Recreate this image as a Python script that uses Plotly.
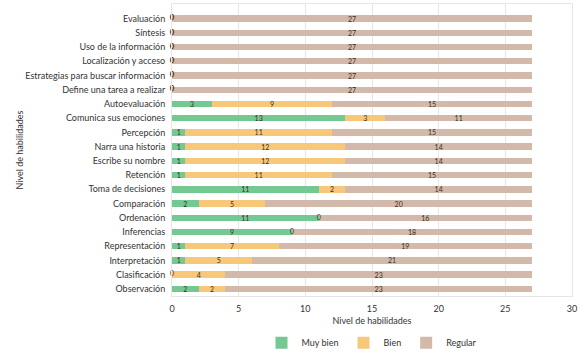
import plotly.graph_objects as go

categories = ["Evaluación", "Síntesis", "Uso de la información", "Localización y acceso",
              "Estrategias para buscar información", "Define una tarea a realizar",
              "Autoevaluación", "Comunica sus emociones", "Percepción", "Narra una historia",
              "Escribe su nombre", "Retención", "Toma de decisiones", "Comparación",
              "Ordenación", "Inferencias", "Representación", "Interpretación",
              "Clasificación", "Observación"]
muy_bien = [0, 0, 0, 0, 0, 0, 3, 13, 1, 1, 1, 1, 11, 2, 11, 9, 1, 1, 0, 2]
bien =     [0, 0, 0, 0, 0, 0, 9, 3, 11, 12, 12, 11, 2, 5, 0, 0, 7, 5, 4, 2]
regular =  [27, 27, 27, 27, 27, 27, 15, 11, 15, 14, 14, 15, 14, 20, 16, 18, 19, 21, 23, 23]
series_names = ["Muy bien", "Bien", "Regular"]
colors = ["#74c993", "#f8c87a", "#d3b9a9"]
x_ticks = [0, 5, 10, 15, 20, 25, 30]

FONT = "Lato"
fig = go.Figure()
series = [muy_bien, bien, regular]
for name, vals, col in zip(series_names, series, colors):
    fig.add_trace(go.Bar(
        y=categories, x=vals, name=name, orientation="h",
        marker=dict(color=col, line=dict(width=0)),
        text=[str(v) if v != 0 else "" for v in vals],
        textposition="inside", insidetextanchor="middle",
        textangle=0, constraintext="none",
        textfont=dict(family=FONT, size=7, color="#3a2e1e"),
        hoverinfo="x+y+name",
    ))

# zero labels at the base of each zero-width segment
zx, zy = [], []
for i, cat in enumerate(categories):
    base = 0
    for vals in series:
        if vals[i] == 0:
            zx.append(base)
            zy.append(cat)
        base += vals[i]
fig.add_trace(go.Scatter(x=zx, y=zy, mode="text", text=["0"] * len(zx),
                         textposition="middle center",
                         textfont=dict(family=FONT, size=7, color="#3a2e1e"),
                         showlegend=False, hoverinfo="skip", cliponaxis=False))

fig.update_layout(
    barmode="stack", bargap=0.55,
    width=586, height=358,
    margin=dict(l=172, r=14, t=4, b=62, autoexpand=False),
    paper_bgcolor="white", plot_bgcolor="white",
    font=dict(family=FONT, size=9, color="#333333"),
    legend=dict(orientation="h", x=0.5, xanchor="center", y=-0.16, yanchor="middle",
                font=dict(size=9), traceorder="normal"),
)
fig.update_xaxes(range=[0, 30], tickvals=x_ticks, showgrid=True, gridcolor="#e6e6e6",
                 zeroline=False, showline=True, linecolor="#e6e6e6", mirror=True,
                 automargin=False, ticklabelstandoff=4,
                 title=dict(text="Nivel de habilidades", font=dict(size=9), standoff=4),
                 tickfont=dict(size=9))
fig.update_yaxes(categoryorder="array", categoryarray=categories[::-1],
                 showline=True, linecolor="#e6e6e6", mirror=True, automargin=False,
                 ticks="", ticklabelstandoff=4,
                 title=dict(text="Nivel de habilidades", font=dict(size=9), standoff=0),
                 tickfont=dict(size=9))
fig.write_html("out.html", config={"displayModeBar": False},
               post_script="document.body.style.margin='0';document.body.style.overflow='hidden';")
